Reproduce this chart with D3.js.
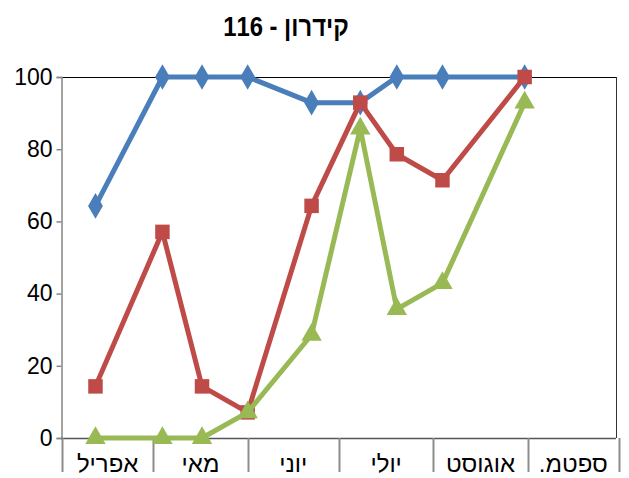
<!DOCTYPE html>
<html>
<head>
<meta charset="utf-8">
<script src="https://cdn.jsdelivr.net/npm/d3@7"></script>
<style>
  html, body { margin: 0; padding: 0; background: #fff; }
  svg { display: block; }
</style>
</head>
<body>
<svg id="chart" width="629" height="478"></svg>
<script>
// Sampling dates and survey results (%) for station Kidron 116
const sampleDates = ["2013-04-12", "2013-05-04", "2013-05-17", "2013-06-01", "2013-06-22", "2013-07-08", "2013-07-20", "2013-08-04", "2013-08-31"];
const blueValues  = [64.3, 100, 100, 100, 92.9, 92.9, 100, 100, 100];
const redValues   = [14.3, 57.1, 14.3, 7.1, 64.3, 92.9, 78.6, 71.4, 100];
const greenValues = [0, 0, 0, 7.1, 28.6, 85.7, 35.7, 42.9, 92.9];
const monthStarts = ["2013-04-01", "2013-05-01", "2013-06-01", "2013-07-01", "2013-08-01", "2013-09-01", "2013-10-01"];
const monthLabels = ["אפריל", "מאי", "יוני", "יולי", "אוגוסט", "ספטמ."];
const yTicks = [0, 20, 40, 60, 80, 100];
const titleText = "קידרון - 116";

const parse = d3.utcParse("%Y-%m-%d");
const svg = d3.select("#chart");

const plotLeft = 61, plotRight = 616, plotTop = 77, plotBottom = 438;
const x = d3.scaleUtc()
  .domain([parse(monthStarts[0]), parse(monthStarts[monthStarts.length - 1])])
  .range([62, 619]);
const y = d3.scaleLinear().domain([0, 100]).range([plotBottom, plotTop]);

// Title (condensed bold)
svg.append("text")
  .attr("transform", "translate(286,36) scale(0.85,1)")
  .attr("text-anchor", "middle")
  .attr("direction", "rtl")
  .attr("font-family", "Liberation Sans, Arial, sans-serif")
  .attr("font-weight", "bold")
  .attr("font-size", 28)
  .attr("fill", "#000")
  .text(titleText);

// Plot frame: top and right edges
svg.append("line").attr("x1", plotLeft).attr("x2", plotRight).attr("y1", plotTop + 0.5).attr("y2", plotTop + 0.5)
  .attr("stroke", "#000").attr("stroke-width", 1);
svg.append("line").attr("x1", plotRight + 0.5).attr("x2", plotRight + 0.5).attr("y1", plotTop).attr("y2", plotBottom)
  .attr("stroke", "#333").attr("stroke-width", 1);

// Y axis
const yAxis = svg.append("g").attr("transform", `translate(${plotLeft + 0.5},0)`)
  .call(d3.axisLeft(y).tickValues(yTicks).tickSize(5).tickPadding(4).tickFormat(d3.format("d")));
yAxis.select(".domain").attr("stroke", "#868686").attr("stroke-width", 1.5);
yAxis.selectAll(".tick line").attr("stroke", "#868686").attr("stroke-width", 1.5);
yAxis.selectAll(".tick text")
  .attr("font-family", "Liberation Sans, Arial, sans-serif")
  .attr("font-size", 23)
  .attr("fill", "#000");

// X axis line and month separators
svg.append("line").attr("x1", plotLeft).attr("x2", plotRight).attr("y1", plotBottom + 0.5).attr("y2", plotBottom + 0.5)
  .attr("stroke", "#555").attr("stroke-width", 1.5);
svg.append("g").selectAll("line").data(monthStarts).join("line")
  .attr("x1", d => Math.round(x(parse(d))) + 0.5)
  .attr("x2", d => Math.round(x(parse(d))) + 0.5)
  .attr("y1", plotBottom)
  .attr("y2", 472)
  .attr("stroke", "#8c8c8c")
  .attr("stroke-width", 2);

// Month labels, centred within each month band
svg.append("g").selectAll("text").data(monthLabels).join("text")
  .attr("x", (d, i) => (x(parse(monthStarts[i])) + x(parse(monthStarts[i + 1]))) / 2)
  .attr("y", 472)
  .attr("text-anchor", "middle")
  .attr("direction", "rtl")
  .attr("font-family", "Liberation Sans, Arial, sans-serif")
  .attr("font-size", 24)
  .attr("fill", "#000")
  .text(d => d);

const dates = sampleDates.map(parse);
const series = [
  { values: blueValues,  color: "#4A7EBB", marker: d3.symbolDiamond,  size: 190 },
  { values: redValues,   color: "#BE4B48", marker: d3.symbolSquare,   size: 210 },
  { values: greenValues, color: "#98B954", marker: d3.symbolTriangle, size: 180 }
];

const line = d3.line().x(d => x(d.date)).y(d => y(d.value));

series.forEach(s => {
  const pts = dates.map((d, i) => ({ date: d, value: s.values[i] }));
  const g = svg.append("g");
  g.append("path")
    .attr("d", line(pts))
    .attr("fill", "none")
    .attr("stroke", s.color)
    .attr("stroke-width", 5)
    .attr("stroke-linejoin", "round");
  g.selectAll("path.m").data(pts).join("path")
    .attr("class", "m")
    .attr("transform", d => `translate(${x(d.date)},${y(d.value)})`)
    .attr("d", d3.symbol().type(s.marker).size(s.size))
    .attr("fill", s.color);
});
</script>
</body>
</html>
